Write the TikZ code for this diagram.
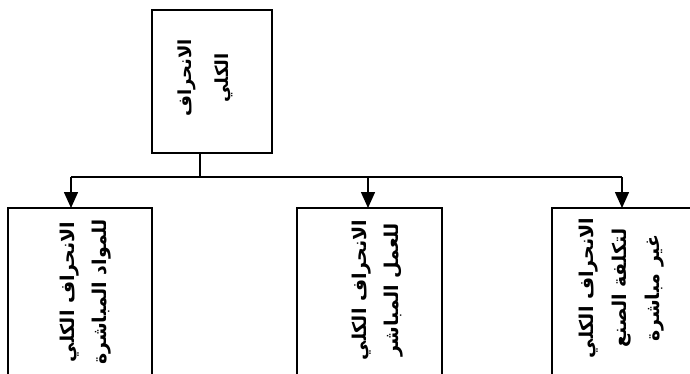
\documentclass[tikz,border=0pt]{standalone}
\usepackage{fontspec}
\newfontfamily\arabicfont[Script=Arabic]{DejaVu Sans}
\TeXXeTstate=1
\usetikzlibrary{arrows.meta}

\begin{document}
\begin{tikzpicture}[x=1pt, y=-1pt,
  box/.style={draw, line width=1.5pt, inner sep=0pt, outer sep=0pt},
  label/.style={rotate=90, align=center, inner sep=0pt,
    font=\arabicfont\bfseries\fontsize{19}{32}\selectfont},
  link/.style={line width=1.5pt},
  arrow/.style={line width=1.5pt, -{Triangle[width=14pt,length=16pt]}}]
  \useasboundingbox (0,0) rectangle (690,373);
  \clip (0,0) rectangle (690,373);

  % boxes
  \node[box, minimum width=120pt, minimum height=143pt] (top) at (212,81.5) {};
  \node[box, minimum width=144pt, minimum height=200pt] (lb) at (80,308) {};
  \node[box, minimum width=145pt, minimum height=200pt] (mb) at (369.5,308) {};
  \node[box, minimum width=145pt, minimum height=200pt] (rb) at (624.5,308) {};

  % labels
  \node[label, font=\arabicfont\bfseries\fontsize{18}{37}\selectfont] (t0) at (205,78)
    {\beginR الانحراف\endR\\\beginR الكلي\endR};
  \node[label] (t1) at (85.5,292)
    {\beginR الانحراف الكلي\endR\\\beginR للمواد المباشرة\endR};
  \node[label] (t2) at (377.5,290)
    {\beginR الانحراف الكلي\endR\\\beginR للعمل المباشر\endR};
  \node[label, font=\arabicfont\bfseries\fontsize{19}{33}\selectfont] (t3) at (622,288)
    {\beginR الانحراف الكلي\endR\\\beginR لتكلفة الصنع\endR\\\beginR غير مباشرة\endR};

  % connectors
  \coordinate (j0) at (200,177);
  \coordinate (j1) at (71,177);
  \coordinate (j2) at (368,177);
  \coordinate (j3) at (622,177);
  \draw[link] (top.south -| j0) -- (j0);
  \draw[link] (j1) -- (j3);
  \draw[arrow] (j1) -- (j1 |- lb.north);
  \draw[arrow] (j2) -- (j2 |- mb.north);
  \draw[arrow] (j3) -- (j3 |- rb.north);
\end{tikzpicture}
\end{document}
